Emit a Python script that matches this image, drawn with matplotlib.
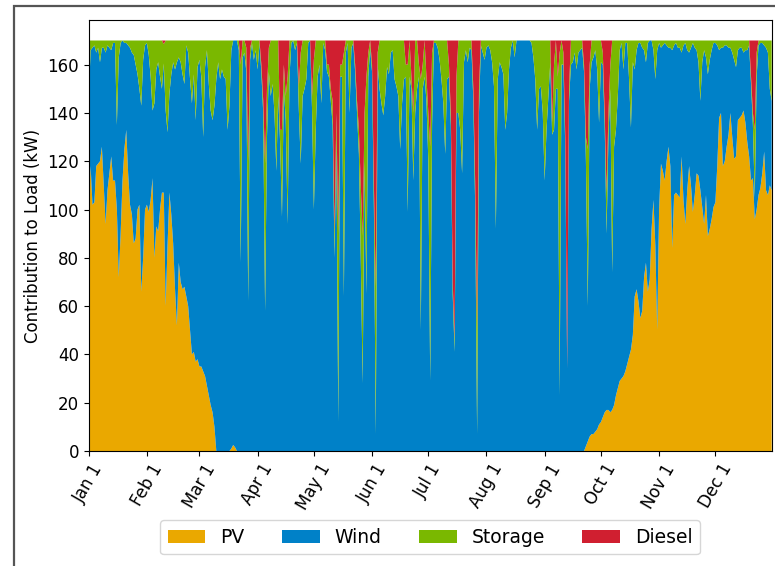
#!/usr/bin/env python3

import numpy as np
import matplotlib
matplotlib.use('Agg')
import matplotlib.pyplot as plt
from matplotlib.patches import Rectangle

# Daily contribution to a constant 170 kW load
load_kw = 170

# PV output per day (kW), Jan 1 .. Dec 31
pv = [
    100, 118, 102, 103, 118, 119, 120, 126, 110, 94, 108, 115, 122, 112, 112, 100, 72, 90, 112, 125,
    133, 115, 102, 98, 86, 88, 100, 102, 66, 80, 100, 102, 99, 104, 113, 80, 93, 91, 100, 107,
    107, 60, 85, 107, 98, 86, 67, 52, 78, 70, 67, 68, 64, 60, 50, 40, 41, 37, 38, 35,
    35, 33, 31, 27, 23, 19, 16, 10, 0, 0, 0, 0, 0, 0, 0, 0, 1, 2.5, 1.5, 0,
    0, 0, 0, 0, 0, 0, 0, 0, 0, 0, 0, 0, 0, 0, 0, 0, 0, 0, 0, 0,
    0, 0, 0, 0, 0, 0, 0, 0, 0, 0, 0, 0, 0, 0, 0, 0, 0, 0, 0, 0,
    0, 0, 0, 0, 0, 0, 0, 0, 0, 0, 0, 0, 0, 0, 0, 0, 0, 0, 0, 0,
    0, 0, 0, 0, 0, 0, 0, 0, 0, 0, 0, 0, 0, 0, 0, 0, 0, 0, 0, 0,
    0, 0, 0, 0, 0, 0, 0, 0, 0, 0, 0, 0, 0, 0, 0, 0, 0, 0, 0, 0,
    0, 0, 0, 0, 0, 0, 0, 0, 0, 0, 0, 0, 0, 0, 0, 0, 0, 0, 0, 0,
    0, 0, 0, 0, 0, 0, 0, 0, 0, 0, 0, 0, 0, 0, 0, 0, 0, 0, 0, 0,
    0, 0, 0, 0, 0, 0, 0, 0, 0, 0, 0, 0, 0, 0, 0, 0, 0, 0, 0, 0,
    0, 0, 0, 0, 0, 0, 0, 0, 0, 0, 0, 0, 0, 0, 0, 0, 0, 0, 0, 0,
    0, 0, 0, 0, 0, 2, 4, 6, 7, 7, 8, 9, 11, 12, 14, 16, 17, 17, 16, 17,
    19, 23, 26, 29, 30, 31, 33, 36, 39, 42, 48, 64, 67, 62, 55, 58, 72, 78, 66, 71,
    92, 104, 85, 50, 100, 119, 116, 112, 120, 126, 118, 84, 106, 107, 106, 105, 122, 104, 94, 108,
    118, 110, 99, 106, 115, 114, 108, 101, 94, 106, 89, 92, 96, 101, 103, 118, 138, 140, 118, 120,
    126, 131, 140, 130, 121, 122, 137, 138, 139, 141, 136, 128, 122, 112, 113, 96, 100, 106, 109, 115,
    124, 108, 106, 110, 108,
]

# Storage discharge per day (kW)
storage = [
    25, 4, 3, 2, 5, 3, 9, 3, 3, 5, 2, 3, 4, 1, 1, 35, 7, 1, 0, 1,
    1, 2, 3, 5, 6, 10, 14, 20, 27, 8, 2, 1, 6, 15, 29, 26, 12, 9, 15, 20,
    8, 29, 38, 22, 14, 9, 12, 9, 7, 9, 14, 18, 2, 5, 16, 26, 14, 33, 11, 8,
    15, 40, 11, 4, 18, 29, 33, 27, 16, 9, 16, 12, 15, 16, 37, 27, 4, 0, 0, 0,
    4, 82, 7, 5, 10, 58, 5, 1, 8, 4, 12, 1, 3, 5, 61, 20, 10, 23, 18, 30,
    54, 23, 5, 36, 10, 10, 61, 15, 1, 0, 4, 1, 10, 46, 23, 20, 16, 1, 0, 5,
    62, 37, 15, 10, 26, 1, 4, 3, 5, 5, 10, 10, 10, 78, 5, 5, 101, 5, 1, 30,
    3, 1, 3, 5, 10, 30, 61, 20, 90, 10, 3, 3, 10, 61, 5, 20, 26, 31, 23, 11,
    14, 5, 4, 16, 19, 23, 45, 26, 16, 5, 61, 15, 5, 28, 30, 20, 5, 104, 10, 15,
    10, 20, 97, 30, 1, 1, 3, 8, 16, 26, 47, 16, 5, 5, 5, 5, 15, 30, 37, 55,
    9, 4, 9, 3, 4, 5, 10, 43, 10, 2, 5, 8, 3, 2, 4, 9, 19, 78, 16, 9,
    11, 14, 37, 30, 12, 3, 0, 7, 0, 0, 0, 0, 0, 0, 0, 0, 1, 7, 16, 37,
    20, 19, 30, 58, 37, 23, 9, 5, 27, 20, 5, 142, 10, 5, 5, 0, 5, 10, 9, 5,
    12, 5, 4, 3, 3, 10, 65, 10, 9, 7, 4, 12, 34, 9, 5, 5, 17, 10, 10, 96,
    44, 37, 23, 4, 1, 12, 1, 1, 16, 36, 9, 12, 4, 1, 1, 3, 4, 9, 1, 0,
    0, 4, 16, 4, 1, 3, 2, 1, 2, 3, 3, 4, 2, 1, 3, 3, 5, 2, 1, 4,
    5, 3, 1, 3, 4, 9, 25, 9, 4, 7, 14, 8, 4, 1, 1, 2, 4, 3, 3, 2,
    2, 3, 3, 5, 8, 11, 4, 3, 3, 5, 4, 4, 2, 3, 5, 28, 10, 2, 1, 1,
    2, 3, 5, 20, 25,
]

# Diesel only runs on a few days: (day of year, kW)
diesel_days = [40, 81, 84, 85, 86, 92, 93, 94, 95, 96, 102, 103, 104, 105, 106,
               112, 113, 119, 120, 127, 128, 129, 130, 131, 132, 133, 134, 135, 136,
               142, 143, 144, 145, 146, 147, 148, 149, 151, 152, 153, 154,
               169, 170, 172, 173, 176, 177, 178, 180, 181, 182, 183,
               192, 193, 194, 195, 196, 205, 206, 207, 208,
               247, 248, 250, 251, 253, 254, 255, 256, 264, 265, 266, 267,
               274, 275, 276, 277, 278, 353, 354, 355, 356]
diesel_kw = [1.5, 10, 3, 50, 3, 10, 25, 51, 20, 3, 37, 37, 10, 23, 15,
             19, 5, 23, 8, 10, 10, 20, 25, 80, 30, 80, 10, 10, 5,
             10, 25, 37, 60, 81, 30, 15, 5, 10, 60, 102, 5,
             10, 10, 15, 30, 10, 16, 10, 15, 30, 44, 5,
             10, 30, 100, 124, 15, 20, 60, 120, 20,
             34, 10, 15, 5, 5, 40, 136, 20, 10, 40, 45, 10,
             5, 30, 63, 30, 10, 15, 30, 37, 5]

month_starts = [0, 31, 59, 90, 120, 151, 181, 212, 243, 273, 304, 334]
month_labels = ['Jan 1', 'Feb 1', 'Mar 1', 'Apr 1', 'May 1', 'Jun 1',
                'Jul 1', 'Aug 1', 'Sep 1', 'Oct 1', 'Nov 1', 'Dec 1']

days = np.arange(len(pv))
pv = np.array(pv, dtype=float)
storage = np.array(storage, dtype=float)
diesel = np.zeros(len(days))
diesel[diesel_days] = diesel_kw
# wind covers whatever is left of the load
wind = load_kw - pv - storage - diesel

colors = ['#eaa800', '#0081c8', '#7ab800', '#d01f30']
labels = ['PV', 'Wind', 'Storage', 'Diesel']

plt.rcParams['font.size'] = 12

fig = plt.figure(figsize=(7.75, 5.66), dpi=100)
ax = fig.add_axes([0.1145, 0.2032, 0.8812, 0.7615])

ax.stackplot(days, pv, wind, storage, diesel, colors=colors, labels=labels,
             linewidth=0)

ax.set_xlim(0, 364)
ax.set_ylim(0, load_kw * 1.05)
ax.set_yticks(range(0, 161, 20))
ax.set_xticks(month_starts)
ax.set_xticklabels(month_labels, rotation=60)
ax.set_ylabel('Contribution to Load (kW)')

ax.legend(loc='upper center', bbox_to_anchor=(0.5, -0.139), ncol=4, fontsize=13.5)

# dark frame around the figure (cropped on right and bottom in the original)
fig.add_artist(Rectangle((14 / 775, -0.1), 1.2, 1.1 - 6 / 566,
                         transform=fig.transFigure, fill=False,
                         edgecolor='#555555', linewidth=1.6))

plt.savefig('out.png', dpi=100)
